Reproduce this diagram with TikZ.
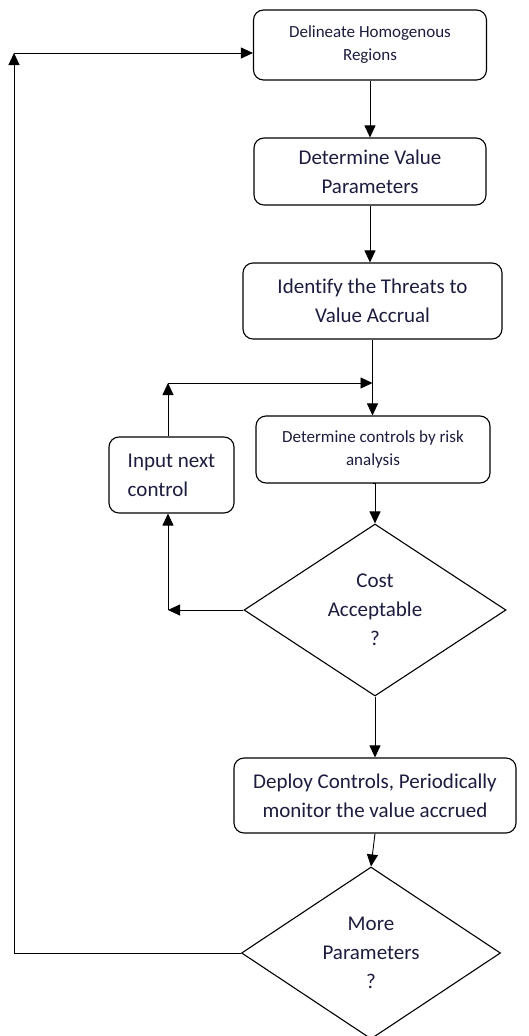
\documentclass[tikz,border=0pt]{standalone}
\usepackage{fontspec}
\setmainfont{Carlito}[Ligatures=NoCommon]
\usepackage{xcolor}
\usetikzlibrary{shapes.geometric,arrows.meta,positioning,calc}
\definecolor{inknavy}{RGB}{28,28,62}
\newcommand{\smalltxt}{\fontsize{17}{23}\selectfont}
\newcommand{\bigtxt}{\fontsize{21}{29}\selectfont}
\begin{document}
\begin{tikzpicture}[x=1pt, y=-1pt,
    block/.style={rectangle, draw, rounded corners=10pt, line width=1.1pt, align=center, text=inknavy, inner sep=2pt},
    decision/.style={diamond, draw, line width=1.1pt, align=center, text=inknavy, inner sep=0pt, minimum width=262pt, minimum height=172pt},
    flow/.style={line width=0.9pt, -{Triangle[length=12pt, width=11pt]}}]

    \useasboundingbox (0,0) rectangle (529,1036);

    % Main column
    \node[block, minimum width=233pt, minimum height=70pt, font=\smalltxt] (regions) at (370,45) {Delineate Homogenous\\Regions};
    \node[block, minimum width=232pt, minimum height=67pt, font=\bigtxt] (values) at (370,171.5) {Determine Value\\Parameters};
    \node[block, minimum width=259pt, minimum height=76pt, font=\bigtxt] (threats) at (372.5,301) {Identify the Threats to\\Value Accrual};
    \node[block, minimum width=234pt, minimum height=67pt, font=\smalltxt] (controls) at (373,449.5) {Determine controls by risk\\analysis};
    \node[decision, font=\bigtxt] (cost) at (375,610) {Cost\\Acceptable\\?};
    \node[block, minimum width=282pt, minimum height=75pt, font=\bigtxt] (deploy) at (375,795.5) {Deploy Controls, Periodically\\monitor the value accrued};
    \node[decision, minimum width=259pt, font=\bigtxt] (more) at (371,953) {More\\Parameters\\?};

    % Side box
    \node[block, minimum width=125pt, minimum height=76pt, align=left, font=\bigtxt] (nextctl) at (171.5,475) {Input next\\control};

    % Helper points
    \coordinate (upleft) at (168,383);
    \coordinate (costleft) at (cost.west -| upleft);
    \coordinate (loopcorner) at (14,53);

    % Connectors
    \draw[flow] (regions.south) -- (regions.south |- values.north);
    \draw[flow] (values.south) -- (values.south |- threats.north);
    \draw[flow] (threats.south) -- (threats.south |- controls.north);
    \draw[flow] (controls.south) -- (controls.south -| cost.north) -- (cost.north);
    \draw[flow] (cost.south) -- (deploy.north);
    \draw[flow] (deploy.south) -- (more.north);

    % Retry loop
    \draw[flow] (cost.west) -- (costleft);
    \draw[flow] (costleft) -- (costleft |- nextctl.south);
    \draw[flow] (upleft |- nextctl.north) -- (upleft);
    \draw[flow] (upleft) -- (upleft -| threats.south);

    % Outer loop
    \draw[flow] (more.west) -- (more.west -| loopcorner) -- (loopcorner);
    \draw[flow] (loopcorner) -- (loopcorner -| regions.west);

\end{tikzpicture}
\end{document}
